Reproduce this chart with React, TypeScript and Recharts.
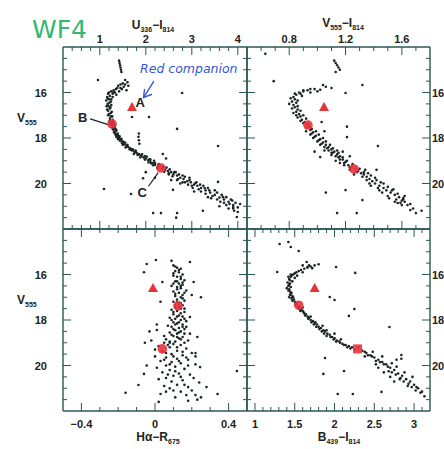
import React from "react";
import {
  ScatterChart,
  Scatter,
  XAxis,
  YAxis,
  ReferenceLine,
  ReferenceDot,
} from "recharts";

type Pt = [number, number];

const W = 444;
const H = 449;
const AX = 10;

// V555 axis, shared by all four panels
const vDomain: [number, number] = [14, 22];
const vTicks = [14.5, 15, 15.5, 16, 16.5, 17, 17.5, 18, 18.5, 19, 19.5, 20, 20.5, 21, 21.5];
const vLabels = [16, 18, 20];

// U336 - I814
const uiDomain: [number, number] = [0.2, 4.2];
const uiTicks = [0.4, 0.6, 0.8, 1, 1.2, 1.4, 1.6, 1.8, 2, 2.2, 2.4, 2.6, 2.8, 3, 3.2, 3.4, 3.6, 3.8, 4];
const uiLabels = [1, 2, 3, 4];

// V555 - I814
const viDomain: [number, number] = [0.5, 1.8];
const viTicks = [0.6, 0.7, 0.8, 0.9, 1, 1.1, 1.2, 1.3, 1.4, 1.5, 1.6, 1.7];
const viLabels = [0.8, 1.2, 1.6];

// H-alpha - R675
const haDomain: [number, number] = [-0.5, 0.5];
const haTicks = [-0.4, -0.3, -0.2, -0.1, 0, 0.1, 0.2, 0.3, 0.4];
const haLabels = [-0.4, 0, 0.4];

// B439 - I814
const biDomain: [number, number] = [0.9, 3.2];
const biTicks = [1, 1.1, 1.2, 1.3, 1.4, 1.5, 1.6, 1.7, 1.8, 1.9, 2, 2.1, 2.2, 2.3, 2.4, 2.5, 2.6, 2.7, 2.8, 2.9, 3, 3.1];
const biLabels = [1, 1.5, 2, 2.5, 3];

// stars: [colour, V555]
const uiStars: Pt[] = [
  [1.42, 14.6], [1.43, 14.7], [1.44, 14.8], [1.45, 14.9], [1.46, 15.0], [1.47, 15.1],
  [0.96, 15.45],
  [1.55, 15.45], [1.6, 15.55], [1.62, 15.7], [1.5, 15.6], [1.45, 15.65], [1.4, 15.7], [1.38, 15.8],
  [1.35, 15.85], [1.3, 15.9], [1.25, 15.95], [1.2, 16.0], [1.18, 16.05], [1.3, 16.0], [1.42, 15.95],
  [1.48, 15.85], [1.52, 15.75], [1.36, 16.1], [1.22, 16.15], [1.16, 16.2], [1.28, 16.2], [1.2, 16.3],
  [1.14, 16.35], [1.24, 16.4], [1.17, 16.5], [1.25, 16.55], [1.19, 16.6], [1.22, 16.7], [1.18, 16.8],
  [1.26, 16.85], [1.2, 16.95], [1.24, 17.05], [1.22, 17.15], [1.28, 17.2], [1.25, 17.3], [1.3, 17.45],
  [1.27, 17.5], [1.32, 17.55], [1.3, 17.65], [1.35, 17.7], [1.33, 17.8], [1.38, 17.85], [1.36, 17.95],
  [1.42, 18.0], [1.4, 18.05], [1.46, 18.1], [1.5, 18.15], [1.48, 18.22], [1.54, 18.28], [1.58, 18.35],
  [1.62, 18.4], [1.66, 18.45], [1.7, 18.55], [1.75, 18.6], [1.8, 18.65], [1.84, 18.7], [1.9, 18.78],
  [1.95, 18.85], [2.0, 18.9], [2.05, 18.98], [2.1, 19.05], [2.15, 19.1], [2.2, 19.18], [2.26, 19.25],
  [2.35, 19.35], [2.42, 19.4], [2.48, 19.45], [2.55, 19.5], [2.6, 19.6], [2.68, 19.65], [2.75, 19.75],
  [2.82, 19.8], [2.9, 19.9], [2.98, 19.95], [3.05, 20.05], [3.12, 20.1], [3.2, 20.2], [3.3, 20.3],
  [3.4, 20.4], [3.5, 20.5], [3.6, 20.62], [3.7, 20.7], [3.8, 20.8], [3.9, 20.95], [4.0, 21.05],
  [1.3, 17.4], [1.34, 17.6], [1.4, 17.9], [1.44, 18.05], [1.52, 18.2], [1.6, 18.3], [1.68, 18.5],
  [1.78, 18.55], [1.86, 18.72], [1.98, 18.8], [2.08, 18.92], [2.18, 19.0], [2.12, 19.12], [2.3, 19.2],
  [2.45, 19.3],
  [2.5, 19.6], [2.65, 19.5], [2.7, 19.8], [2.8, 19.65], [2.85, 19.95], [2.95, 19.75], [3.0, 20.1],
  [3.1, 19.95], [3.15, 20.25], [3.25, 20.1], [3.3, 20.45], [3.35, 20.2], [3.45, 20.55], [3.5, 20.3],
  [3.55, 20.7], [3.65, 20.5], [3.7, 20.85], [3.75, 20.6], [3.85, 20.7], [3.9, 21.1], [3.95, 20.85],
  [4.05, 20.9], [2.55, 19.85], [2.75, 20.0], [3.05, 20.35], [3.35, 20.6], [3.6, 21.0], [3.8, 21.1],
  [1.17, 16.25], [1.21, 16.45], [1.15, 16.6], [1.23, 16.65], [1.16, 16.75], [1.24, 16.9], [1.18, 17.0],
  [1.27, 17.05], [1.21, 17.25], [1.29, 17.3], [1.24, 17.4], [1.33, 17.45], [1.28, 17.6], [1.36, 17.65],
  [1.31, 17.75], [1.39, 17.8], [1.35, 17.88], [1.43, 17.92], [1.39, 18.0], [1.47, 18.03], [1.44, 18.12],
  [1.55, 18.2], [1.5, 18.3], [1.6, 18.36], [1.56, 18.42], [1.65, 18.5], [1.72, 18.5], [1.78, 18.62],
  [1.74, 18.7], [1.82, 18.75], [1.92, 18.72], [1.88, 18.85], [2.02, 18.82], [1.98, 18.95], [2.1, 18.95],
  [2.06, 19.08], [2.2, 19.1], [2.16, 19.2], [2.28, 19.15], [2.25, 19.32], [2.38, 19.28], [2.4, 19.48],
  [2.52, 19.38], [2.5, 19.55], [2.62, 19.5], [2.58, 19.68], [2.72, 19.6], [2.68, 19.85], [2.85, 19.7],
  [2.8, 19.95], [2.95, 19.85], [2.92, 20.05], [3.08, 19.98], [3.02, 20.2], [3.18, 20.05], [3.2, 20.35],
  [3.28, 20.2], [3.38, 20.3], [3.42, 20.65], [3.55, 20.4], [3.62, 20.8], [3.68, 20.6], [3.75, 20.95],
  [3.82, 20.9], [3.88, 20.75], [3.92, 21.2], [1.25, 16.3], [1.28, 16.05], [1.33, 16.0], [1.45, 15.8],
  [1.55, 15.65], [1.58, 15.9],
  [1.7, 17.08], [1.85, 17.8], [1.84, 17.95], [1.85, 18.1], [1.86, 18.25], [2.07, 17.08], [2.79, 16.02],
  [2.68, 17.6], [3.57, 18.35], [2.37, 18.7], [2.44, 18.9], [1.94, 19.77], [1.68, 20.46], [1.09, 20.24],
  [2.59, 20.28], [3.57, 19.93], [2.16, 21.3], [2.33, 21.3], [2.68, 21.3], [2.66, 21.5], [3.24, 21.2],
  [3.9, 21.03], [4.0, 21.25], [3.98, 21.47], [2.2, 19.75], [2.0, 19.5],
];

const viStars: Pt[] = [
  [1.12, 14.6], [1.13, 14.7], [1.14, 14.8], [1.15, 14.9], [1.16, 15.0], [1.13, 15.1],
  [0.63, 14.3], [0.69, 15.5], [1.32, 15.67], [1.2, 16.02], [1.04, 15.67], [1.06, 15.75], [1.1, 15.8],
  [0.98, 15.85], [0.93, 15.9], [0.9, 15.95], [0.87, 16.0], [0.95, 16.0], [1.0, 15.95], [0.85, 16.1],
  [0.83, 16.2], [0.89, 16.15], [0.84, 16.3], [0.82, 16.4], [0.85, 16.45], [0.83, 16.55], [0.84, 16.65],
  [0.86, 16.75], [0.85, 16.85], [0.87, 16.95], [0.88, 17.05], [0.86, 17.1], [0.89, 17.2], [0.91, 17.3],
  [0.9, 17.35], [0.94, 17.5], [0.92, 17.55], [0.95, 17.65], [0.97, 17.75], [0.96, 17.8], [0.99, 17.9],
  [0.98, 17.95], [1.02, 18.05], [1.01, 18.1], [1.04, 18.2], [1.03, 18.25], [1.06, 18.3], [1.08, 18.4],
  [1.07, 18.45], [1.1, 18.5], [1.12, 18.6], [1.11, 18.65], [1.14, 18.72], [1.16, 18.8], [1.15, 18.85],
  [1.18, 18.95], [1.2, 19.05], [1.19, 19.1], [1.22, 19.2], [1.24, 19.3], [1.29, 19.45], [1.31, 19.55],
  [1.33, 19.6], [1.35, 19.7], [1.37, 19.8], [1.39, 19.9], [1.41, 20.0], [1.44, 20.1], [1.47, 20.2],
  [1.49, 20.3], [1.52, 20.4], [1.55, 20.5], [1.58, 20.6], [1.6, 20.75], [1.62, 20.8], [1.59, 20.85],
  [1.26, 19.6], [1.34, 19.4], [1.37, 20.0], [1.41, 19.75], [1.44, 20.3], [1.47, 20.0], [1.5, 20.55],
  [1.54, 20.25], [1.56, 20.7], [1.62, 20.55], [1.66, 20.9], [1.68, 21.1], [1.7, 21.3], [1.74, 21.2],
  [1.23, 19.4], [1.16, 19.1], [1.13, 19.0], [1.1, 18.75], [1.05, 18.55], [1.18, 18.6], [1.23, 18.8],
  [0.84, 16.05], [0.81, 16.25], [0.86, 16.35], [0.8, 16.5], [0.86, 16.6], [0.82, 16.7], [0.88, 16.8],
  [0.83, 16.9], [0.9, 17.0], [0.85, 17.0], [0.92, 17.15], [0.88, 17.25], [0.93, 17.4], [0.96, 17.6],
  [0.92, 17.7], [0.99, 17.7], [0.95, 17.85], [1.01, 17.85], [0.97, 18.0], [1.04, 18.0], [1.0, 18.15],
  [1.06, 18.15], [1.02, 18.3], [1.09, 18.3], [1.05, 18.4], [1.11, 18.45], [1.08, 18.55], [1.14, 18.55],
  [1.1, 18.65], [1.15, 18.65], [1.13, 18.8], [1.18, 18.85], [1.16, 18.95], [1.21, 19.0], [1.19, 19.2],
  [1.25, 19.15], [1.23, 19.3], [1.27, 19.35], [1.3, 19.35], [1.28, 19.5], [1.33, 19.5], [1.36, 19.55],
  [1.32, 19.7], [1.38, 19.65], [1.35, 19.85], [1.42, 19.85], [1.38, 20.1], [1.45, 19.95], [1.43, 20.2],
  [1.5, 20.15], [1.46, 20.4], [1.53, 20.3], [1.51, 20.65], [1.57, 20.45], [1.55, 20.8], [1.61, 20.7],
  [1.64, 20.95], [1.6, 20.95], [0.9, 15.9], [0.95, 15.85], [1.02, 15.88], [0.88, 16.05],
  [1.02, 18.84], [1.21, 17.96], [1.21, 17.5], [1.43, 18.35], [1.05, 17.7], [1.06, 20.4], [1.14, 21.3],
  [1.28, 21.3], [1.2, 20.29], [1.32, 20.73], [1.42, 19.4], [1.66, 21.17], [1.61, 20.64], [1.57, 20.86],
  [1.03, 17.3], [0.98, 18.6],
];

const haStars: Pt[] = [
  [0.1, 15.6], [0.12, 15.7], [0.14, 15.75], [0.11, 15.85], [0.13, 15.9], [0.15, 16.0], [0.1, 16.05],
  [0.12, 16.1], [0.14, 16.2], [0.16, 16.25], [0.11, 16.3], [0.13, 16.4], [0.15, 16.45], [0.09, 16.5],
  [0.12, 16.55], [0.14, 16.6], [0.17, 16.7], [0.1, 16.75], [0.13, 16.8], [0.15, 16.9], [0.11, 16.95],
  [0.14, 17.0], [0.12, 17.1], [0.16, 17.15], [0.1, 17.2], [0.13, 17.3], [0.15, 17.35], [0.11, 17.45],
  [0.14, 17.5], [0.09, 17.55], [0.12, 17.6], [0.16, 17.65], [0.1, 17.75], [0.13, 17.8], [0.15, 17.85],
  [0.08, 17.9], [0.11, 17.95], [0.14, 18.0], [0.17, 18.05], [0.1, 18.1], [0.12, 18.15], [0.15, 18.2],
  [0.07, 18.25], [0.09, 18.3], [0.13, 18.35], [0.16, 18.4], [0.11, 18.45], [0.14, 18.5], [0.08, 18.55],
  [0.12, 18.6], [0.1, 18.7], [0.15, 18.75], [0.13, 18.8], [0.06, 18.85], [0.18, 18.9],
  [0.11, 15.65], [0.13, 15.8], [0.1, 15.95], [0.14, 16.1], [0.12, 16.3], [0.15, 16.35], [0.1, 16.4],
  [0.14, 16.5], [0.12, 16.65], [0.16, 16.8], [0.11, 16.85], [0.15, 17.05], [0.12, 17.2], [0.14, 17.25],
  [0.11, 17.35], [0.13, 17.45], [0.16, 17.5], [0.1, 17.65], [0.14, 17.7], [0.12, 17.85], [0.16, 17.95],
  [0.09, 18.0], [0.13, 18.1], [0.11, 18.2], [0.15, 18.3], [0.1, 18.4], [0.13, 18.55], [0.16, 18.6],
  [0.09, 18.65], [0.12, 18.75], [0.14, 18.85], [0.08, 18.95], [0.11, 18.95], [0.16, 19.0], [0.07, 19.1],
  [0.12, 19.2], [0.15, 19.4], [0.06, 19.45], [0.1, 19.6], [0.17, 19.65], [0.05, 19.75], [0.13, 19.8],
  [0.08, 19.95], [0.18, 20.0], [0.11, 20.25], [0.14, 20.5], [0.07, 20.4], [0.21, 20.55], [0.16, 20.85],
  [0.1, 21.1], [0.06, 21.15], [0.17, 21.3], [0.11, 21.4], [0.08, 19.0], [0.19, 18.6], [0.05, 18.7],
  [0.17, 18.3],
  [0.05, 19.0], [0.1, 19.05], [0.14, 19.1], [0.02, 19.15], [0.08, 19.2], [0.17, 19.25], [0.12, 19.35],
  [0.04, 19.4], [0.2, 19.45], [0.09, 19.5], [0.15, 19.55], [0.0, 19.6], [0.06, 19.65], [0.12, 19.7],
  [0.18, 19.75], [0.03, 19.8], [0.09, 19.85], [0.14, 19.9], [0.22, 19.95], [0.06, 20.0], [0.11, 20.05],
  [0.01, 20.1], [0.16, 20.15], [0.08, 20.2], [0.04, 20.3], [0.13, 20.35], [0.19, 20.4], [0.1, 20.45],
  [0.06, 20.55], [0.02, 20.6], [0.15, 20.65], [0.09, 20.7], [0.24, 20.75], [0.12, 20.85], [0.05, 20.9],
  [0.18, 20.95], [0.08, 21.0], [0.2, 21.1], [0.14, 21.15], [0.03, 21.25], [0.22, 21.3], [0.25, 21.4],
  [0.18, 21.55],
  [0.005, 15.36], [-0.045, 15.54], [-0.06, 15.9], [0.19, 15.45], [0.09, 15.4], [0.04, 16.33],
  [0.21, 16.33], [0.03, 17.2], [0.19, 17.87], [0.01, 18.44], [-0.03, 18.5], [-0.055, 19.0],
  [-0.045, 20.0], [-0.06, 20.37], [-0.09, 20.86], [-0.16, 21.2], [0.445, 20.24], [0.34, 21.25],
  [0.28, 20.95], [0.23, 21.5], [0.02, 21.6], [0.245, 20.07], [0.23, 18.75], [0.22, 19.45], [0.22, 19.6],
  [0.01, 18.2], [-0.02, 18.9], [0.0, 19.3], [0.25, 17.0], [0.2, 16.9],
];

const biStars: Pt[] = [
  [1.31, 14.66], [1.42, 14.57], [1.45, 14.79], [1.55, 14.97], [1.28, 15.89],
  [1.8, 15.55], [1.75, 15.6], [1.7, 15.65], [1.66, 15.7], [1.62, 15.75], [1.72, 15.72], [1.58, 15.8],
  [1.55, 15.85], [1.6, 15.9], [1.5, 15.95], [1.48, 16.0], [1.53, 16.05], [1.45, 16.1], [1.5, 16.15],
  [1.43, 16.2], [1.47, 16.3], [1.44, 16.4], [1.42, 16.5], [1.45, 16.55], [1.43, 16.65], [1.44, 16.75],
  [1.46, 16.8], [1.44, 16.9], [1.47, 16.95], [1.46, 17.05], [1.49, 17.1], [1.5, 17.2], [1.52, 17.25],
  [1.54, 17.4], [1.56, 17.45], [1.58, 17.55], [1.6, 17.6], [1.62, 17.7], [1.64, 17.75], [1.66, 17.85],
  [1.68, 17.9], [1.7, 18.0], [1.73, 18.05], [1.75, 18.15], [1.78, 18.2], [1.8, 18.3], [1.83, 18.35],
  [1.86, 18.45], [1.88, 18.5], [1.91, 18.6], [1.94, 18.65], [1.97, 18.75], [2.0, 18.8], [2.03, 18.9],
  [2.06, 18.95], [2.1, 19.05], [2.14, 19.1], [2.18, 19.15], [2.22, 19.2], [2.35, 19.35], [2.4, 19.45],
  [2.45, 19.55], [2.5, 19.65], [2.55, 19.75], [2.6, 19.85], [2.65, 19.95], [2.7, 20.1], [2.75, 20.2],
  [2.8, 20.35], [2.85, 20.45], [2.9, 20.6], [2.95, 20.7], [3.0, 20.85], [3.05, 21.0], [3.1, 21.15],
  [3.13, 21.35],
  [1.45, 16.0], [1.42, 16.1], [1.44, 16.25], [1.41, 16.35], [1.43, 16.45], [1.4, 16.6], [1.42, 16.7],
  [1.45, 16.85], [1.43, 17.0], [1.48, 17.0], [1.47, 17.15], [1.51, 17.3], [1.55, 17.5], [1.57, 17.6],
  [1.61, 17.65], [1.63, 17.8], [1.67, 17.95], [1.71, 18.1], [1.74, 18.2], [1.77, 18.3], [1.81, 18.4],
  [1.84, 18.5], [1.87, 18.6], [1.9, 18.7], [1.95, 18.75], [1.99, 18.85], [2.02, 18.95], [2.07, 19.0],
  [2.12, 19.1], [2.16, 19.2], [2.2, 19.25], [2.25, 19.3], [2.38, 19.4], [2.42, 19.55], [2.47, 19.6],
  [2.52, 19.8], [2.57, 19.85], [2.62, 19.95], [2.67, 20.05], [2.72, 20.3], [2.77, 20.4], [2.83, 20.55],
  [2.87, 20.7], [2.93, 20.8], [2.97, 20.95], [3.03, 20.95], [3.08, 21.2], [1.52, 15.9], [1.46, 16.05],
  [1.68, 15.6],
  [1.6, 17.45], [1.7, 17.85], [1.76, 18.1], [1.85, 18.25], [1.9, 18.45], [2.0, 18.6], [2.08, 18.85],
  [2.3, 19.2], [2.38, 19.6], [2.48, 19.4], [2.52, 19.95], [2.6, 19.6], [2.68, 20.25], [2.72, 19.9],
  [2.78, 20.05], [2.82, 20.6], [2.88, 20.3], [2.92, 20.9], [2.98, 20.5], [2.62, 20.3], [2.7, 20.5],
  [2.75, 20.7], [2.78, 19.75], [2.55, 20.1], [3.02, 21.1],
  [1.66, 15.67], [2.02, 15.67], [2.26, 15.93], [1.94, 16.99], [2.0, 17.12], [2.25, 17.52], [2.18, 17.82],
  [2.69, 18.31], [1.88, 19.67], [2.12, 20.24], [1.86, 20.37], [2.04, 21.25], [2.23, 21.25], [2.59, 21.16],
  [2.84, 19.54], [2.84, 19.7], [1.65, 15.45], [1.6, 15.6],
];

// the three marked stars A (triangle), B and C
const uiMarked: Pt[] = [[1.7, 16.64], [1.265, 17.38], [2.33, 19.32]];
const viMarked: Pt[] = [[1.047, 16.64], [0.933, 17.43], [1.26, 19.36]];
const haMarked: Pt[] = [[-0.011, 16.59], [0.125, 17.38], [0.04, 19.27]];
const biMarked: Pt[] = [[1.75, 16.59], [1.55, 17.35], [2.29, 19.27]];

const FRAME = "#2c5656";
const INK = "#222";
const DOT = "#1b2424";
const RED = "#e8323a";
const FONT = "Liberation Sans, Arial, sans-serif";

type Side = "top" | "bottom" | "left" | "right";

const fmt = (v: number) => (v < 0 ? "\u2212" + Math.abs(v) : String(v));
const has = (list: number[], v: number) => list.some((m) => Math.abs(m - v) < 1e-6);

const makeTick = (side: Side, labels: number[], show: boolean) => (p: any) => {
  const v = p.payload.value;
  const major = has(labels, v);
  const len = major ? 8 : 4;
  const { x, y } = p;
  let line;
  let label = null;
  if (side === "bottom") {
    line = <line x1={x} y1={y} x2={x} y2={y - len} />;
    if (show && major)
      label = <text x={x} y={y + 17} textAnchor="middle">{fmt(v)}</text>;
  } else if (side === "top") {
    line = <line x1={x} y1={y} x2={x} y2={y + len} />;
    if (show && major)
      label = <text x={x} y={y - 4} textAnchor="middle">{fmt(v)}</text>;
  } else if (side === "left") {
    line = <line x1={x} y1={y} x2={x + len} y2={y} />;
    if (show && major)
      label = <text x={x - 16} y={y + 4} textAnchor="end">{fmt(v)}</text>;
  } else {
    line = <line x1={x} y1={y} x2={x - len} y2={y} />;
    if (show && major)
      label = <text x={x + 2} y={y + 4} textAnchor="start">{fmt(v)}</text>;
  }
  return (
    <g>
      <g stroke={FRAME} strokeWidth={1}>{line}</g>
      <g fill={INK} fontSize={11} fontFamily={FONT} fontWeight="bold" stroke="none">{label}</g>
    </g>
  );
};

const smallDot = (p: any) => <circle cx={p.cx} cy={p.cy} r={1.3} fill={DOT} />;
const redTri = (p: any) => (
  <path d={`M${p.cx},${p.cy - 5} L${p.cx + 5},${p.cy + 4} L${p.cx - 5},${p.cy + 4} Z`} fill={RED} />
);
const redDot = (p: any) => <circle cx={p.cx} cy={p.cy} r={4.8} fill={RED} opacity={0.9} />;
const redSq = (p: any) => <rect x={p.cx - 4.5} y={p.cy - 4.5} width={9} height={9} fill={RED} opacity={0.9} />;

type PanelProps = {
  box: { left: number; top: number; right: number; bottom: number };
  xDomain: [number, number];
  xTicks: number[];
  xLabels: number[];
  xLabelSide: "top" | "bottom";
  yLabelSide: "left" | "right";
  stars: Pt[];
  marked: Pt[];
  squareC?: boolean;
  extra?: React.ReactNode;
};

function Panel({ box, xDomain, xTicks, xLabels, xLabelSide, yLabelSide, stars, marked, squareC, extra }: PanelProps) {
  const data = stars.map(([x, y]) => ({ x, y }));
  const tri = [{ x: marked[0][0], y: marked[0][1] }];
  const rest = marked.slice(1).map(([x, y]) => ({ x, y }));
  const margin = {
    left: box.left - AX,
    top: box.top - AX,
    right: W - box.right - AX,
    bottom: H - box.bottom - AX,
  };
  const axisLine = { stroke: FRAME, strokeWidth: 1.4 };
  return (
    <div style={{ position: "absolute", left: 0, top: 0 }}>
      <ScatterChart width={W} height={H} margin={margin}>
        <XAxis xAxisId="b" orientation="bottom" type="number" dataKey="x" domain={xDomain}
          allowDataOverflow ticks={xTicks} interval={0} height={AX} tickSize={0} tickMargin={0}
          tickLine={false} axisLine={axisLine} tick={makeTick("bottom", xLabels, xLabelSide === "bottom")} />
        <XAxis xAxisId="t" orientation="top" type="number" dataKey="x" domain={xDomain}
          allowDataOverflow ticks={xTicks} interval={0} height={AX} tickSize={0} tickMargin={0}
          tickLine={false} axisLine={axisLine} tick={makeTick("top", xLabels, xLabelSide === "top")} />
        <YAxis yAxisId="l" orientation="left" type="number" dataKey="y" domain={vDomain} reversed
          allowDataOverflow ticks={vTicks} interval={0} width={AX} tickSize={0} tickMargin={0}
          tickLine={false} axisLine={axisLine} tick={makeTick("left", vLabels, yLabelSide === "left")} />
        <YAxis yAxisId="r" orientation="right" type="number" dataKey="y" domain={vDomain} reversed
          allowDataOverflow ticks={vTicks} interval={0} width={AX} tickSize={0} tickMargin={0}
          tickLine={false} axisLine={axisLine} tick={makeTick("right", vLabels, yLabelSide === "right")} />
        <Scatter xAxisId="b" yAxisId="l" data={data} shape={smallDot} isAnimationActive={false} />
        <Scatter xAxisId="b" yAxisId="l" data={tri} shape={redTri} isAnimationActive={false} />
        <Scatter xAxisId="b" yAxisId="l" data={rest.slice(0, 1)} shape={redDot} isAnimationActive={false} />
        <Scatter xAxisId="b" yAxisId="l" data={rest.slice(1)} shape={squareC ? redSq : redDot} isAnimationActive={false} />
        {extra}
      </ScatterChart>
    </div>
  );
}

const letter = (s: string) => (p: any) => (
  <text x={p.cx} y={p.cy + 5} textAnchor="middle" fontFamily={FONT} fontWeight="bold" fontSize={13} fill={INK}>
    {s}
  </text>
);

const arrow = (p: any) => {
  const { x1, y1, x2, y2 } = p;
  return (
    <g stroke="#3557d6" strokeWidth={1.4} fill="none" strokeLinecap="round">
      <line x1={x1} y1={y1} x2={x2} y2={y2} />
      <path d={`M${x2 + 1},${y2 - 8} L${x2},${y2} L${x2 + 8},${y2 - 3}`} />
    </g>
  );
};

const uiNotes = (
  <>
    <ReferenceLine xAxisId="b" yAxisId="l" segment={[{ x: 0.79, y: 17.16 }, { x: 1.2, y: 17.42 }]}
      stroke={INK} strokeWidth={1.2} />
    <ReferenceLine xAxisId="b" yAxisId="l" segment={[{ x: 2.06, y: 20.12 }, { x: 2.27, y: 19.52 }]}
      stroke={INK} strokeWidth={1.2} />
    <ReferenceLine xAxisId="b" yAxisId="l" segment={[{ x: 2.17, y: 15.52 }, { x: 1.95, y: 16.22 }]}
      shape={arrow} />
    <ReferenceDot xAxisId="b" yAxisId="l" x={1.88} y={16.42} r={0} shape={letter("A")} />
    <ReferenceDot xAxisId="b" yAxisId="l" x={0.63} y={17.08} r={0} shape={letter("B")} />
    <ReferenceDot xAxisId="b" yAxisId="l" x={1.92} y={20.37} r={0} shape={letter("C")} />
  </>
);

function Title({ x, y, parts, anchor = "middle" }: { x: number; y: number; parts: [string, string][]; anchor?: string }) {
  return (
    <text x={x} y={y} textAnchor={anchor as any} fontFamily={FONT} fontWeight="bold" fontSize={12} fill={INK}>
      {parts.map(([main, sub], i) => (
        <React.Fragment key={i}>
          <tspan dy={i === 0 ? 0 : -3}>{main}</tspan>
          <tspan fontSize={7} dy={3}>{sub}</tspan>
        </React.Fragment>
      ))}
    </text>
  );
}

export default function App() {
  return (
    <div style={{ position: "absolute", left: 0, top: 0, width: W, height: H, background: "#fff", overflow: "hidden" }}>
      <Panel box={{ left: 63, top: 47, right: 247, bottom: 229 }} xDomain={uiDomain} xTicks={uiTicks}
        xLabels={uiLabels} xLabelSide="top" yLabelSide="left" stars={uiStars} marked={uiMarked} extra={uiNotes} />
      <Panel box={{ left: 247, top: 47, right: 430, bottom: 229 }} xDomain={viDomain} xTicks={viTicks}
        xLabels={viLabels} xLabelSide="top" yLabelSide="right" stars={viStars} marked={viMarked} />
      <Panel box={{ left: 63, top: 229, right: 247, bottom: 411 }} xDomain={haDomain} xTicks={haTicks}
        xLabels={haLabels} xLabelSide="bottom" yLabelSide="left" stars={haStars} marked={haMarked} />
      <Panel box={{ left: 247, top: 229, right: 430, bottom: 411 }} xDomain={biDomain} xTicks={biTicks}
        xLabels={biLabels} xLabelSide="bottom" yLabelSide="right" stars={biStars} marked={biMarked} squareC />
      <svg width={W} height={H} style={{ position: "absolute", left: 0, top: 0, pointerEvents: "none" }}>
        <text x={32} y={38} fontFamily="DejaVu Sans, sans-serif" fontSize={25} fill="#34b870">WF4</text>
        <text x={140} y={73} fontFamily="DejaVu Sans, sans-serif" fontStyle="italic" fontSize={12.5} fill="#3557d6">
          Red companion
        </text>
        <Title x={153} y={29} parts={[["U", "336"], ["\u2212I", "814"]]} />
        <Title x={343} y={27} parts={[["V", "555"], ["\u2212I", "814"]]} />
        <Title x={158} y={441} parts={[["H\u03b1\u2212R", "675"]]} />
        <Title x={339} y={441} parts={[["B", "439"], ["\u2212I", "814"]]} />
        <Title x={17} y={122} anchor="start" parts={[["V", "555"]]} />
        <Title x={17} y={304} anchor="start" parts={[["V", "555"]]} />
      </svg>
    </div>
  );
}
